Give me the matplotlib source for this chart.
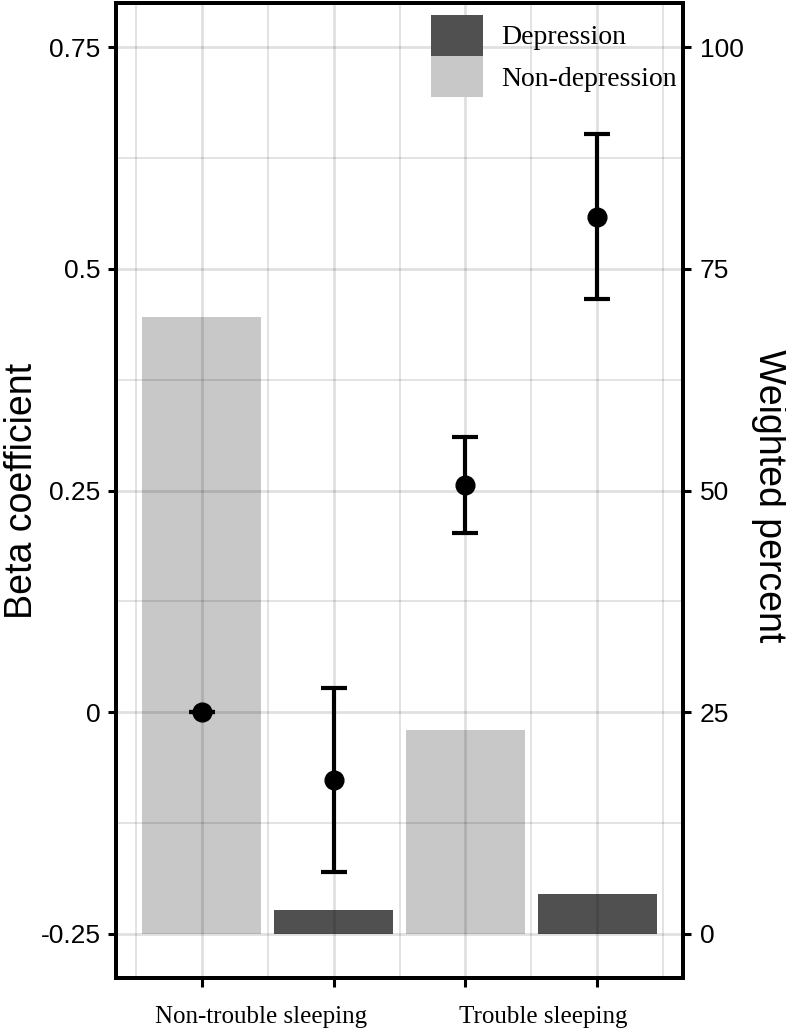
import matplotlib.pyplot as plt
from matplotlib.patches import Patch
from matplotlib.ticker import FixedLocator

# bars (right axis, weighted percent)
bar_pos = [1, 2, 3, 4]
bar_group = ["Non-depression", "Depression", "Non-depression", "Depression"]
bar_pct = [69.6, 2.7, 23.0, 4.5]

# beta coefficients with CI (left axis)
beta = [0.0, -0.077, 0.256, 0.559]
beta_lo = [0.0, -0.180, 0.2025, 0.466]
beta_hi = [0.0, 0.027, 0.310, 0.652]

group_labels = ["Non-trouble sleeping", "Trouble sleeping"]
group_label_x = [1.45, 3.59]

beta_ticks = [-0.25, 0, 0.25, 0.5, 0.75]
beta_ticklabels = ["-0.25", "0", "0.25", "0.5", "0.75"]
pct_ticks = [0, 25, 50, 75, 100]

colors = {"Depression": "#505050", "Non-depression": "#c8c8c8"}
sans = "Liberation Sans"
serif = "Liberation Serif"

fig = plt.figure(figsize=(7.86, 10.32), dpi=100)
ax2 = fig.add_axes([116 / 786, 54 / 1032, 567 / 786, 975 / 1032])
ax = ax2.twinx()
ax.set_zorder(ax2.get_zorder() + 1)
ax.patch.set_visible(False)
ax.xaxis.set_visible(True)
ax2.xaxis.set_visible(False)

# bars on percent axis
ax2.bar(bar_pos, bar_pct, width=0.9, color=[colors[g] for g in bar_group], zorder=1)
ax2.set_ylim(-5, 105)
ax2.yaxis.tick_right()
ax2.yaxis.set_label_position("right")
ax.yaxis.tick_left()
ax.yaxis.set_label_position("left")

# beta axis
ax.set_ylim(-0.30, 0.80)
ax.set_xlim(0.35, 4.65)
ax.set_yticks(beta_ticks)
ax.set_yticklabels(beta_ticklabels)
ax.yaxis.set_minor_locator(FixedLocator([-0.125, 0.125, 0.375, 0.625]))
ax.set_xticks(bar_pos)
ax.set_xticklabels([])
ax.xaxis.set_minor_locator(FixedLocator([0.5, 1.5, 2.5, 3.5, 4.5]))

ax.set_axisbelow(True)
ax.grid(which="major", color="black", alpha=0.12, linewidth=2.0)
ax.grid(which="minor", color="black", alpha=0.12, linewidth=1.3)

yerr = [[b - l for b, l in zip(beta, beta_lo)], [h - b for b, h in zip(beta, beta_hi)]]
ax.errorbar(bar_pos, beta, yerr=yerr, fmt="o", color="black", markersize=13.5,
            elinewidth=3, capsize=9.5, capthick=3, zorder=5)

ax2.set_yticks(pct_ticks)
for a in (ax, ax2):
    for s in a.spines.values():
        s.set_linewidth(2.8)
        s.set_color("black")

ax.tick_params(axis="y", which="major", length=6, width=2.2, pad=5, labelsize=19, labelfontfamily=sans)
ax.tick_params(axis="x", which="major", length=6.5, width=2.2)
ax.tick_params(which="minor", length=0)
ax2.tick_params(axis="y", which="major", length=6, width=2.2, pad=6, labelsize=19, labelfontfamily=sans)

ax.set_ylabel("Beta coefficient", fontsize=27, family=sans, va="center")
ax.yaxis.set_label_coords(-0.165, 0.5)
ax2.set_ylabel("Weighted percent", fontsize=27, family=sans, rotation=-90, va="center")
ax2.yaxis.set_label_coords(1.152, 0.495)

for lab, x in zip(group_labels, group_label_x):
    ax.text(x, -0.04, lab, transform=ax.get_xaxis_transform(), ha="center", va="center",
            fontsize=18, family=serif)

handles = [Patch(facecolor=colors["Depression"], label="Depression"),
           Patch(facecolor=colors["Non-depression"], label="Non-depression")]
ax.legend(handles=handles, loc="upper left", bbox_to_anchor=(0.5556, 0.9877),
          frameon=False, borderpad=0, borderaxespad=0, labelspacing=0,
          handlelength=1.87, handleheight=1.9, handletextpad=0.65,
          prop={"family": serif, "size": 20})

fig.savefig("out.png", dpi=100)
